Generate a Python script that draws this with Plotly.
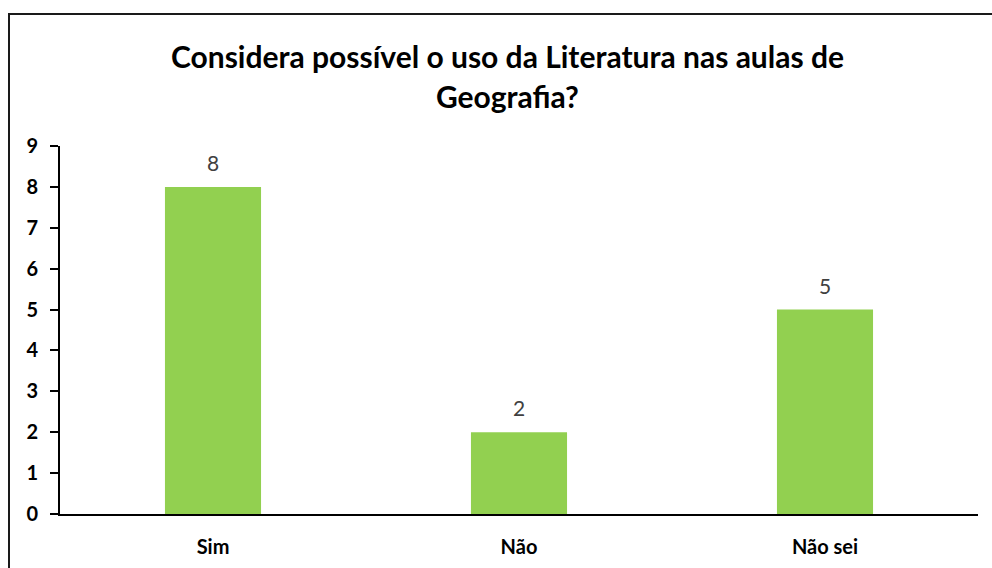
import plotly.graph_objects as go

categories = ["Sim", "Não", "Não sei"]
values = [8, 2, 5]
title_lines = ["Considera possível o uso da Literatura nas aulas de", "Geografia?"]

W, H = 992, 568
L, R, T, B = 60, 14, 146, 54
plot_w = W - L - R
plot_h = H - T - B

bar_color = "#92D050"
font_family = "Lato, 'Open Sans', sans-serif"

fig = go.Figure(
    go.Bar(
        x=categories,
        y=values,
        marker=dict(color=bar_color, line=dict(width=0)),
        width=0.314,
        hoverinfo="skip",
    )
)

# value labels above each bar
for c, v in zip(categories, values):
    fig.add_annotation(
        x=c, y=v, text=str(v), showarrow=False,
        yanchor="bottom", yshift=10,
        font=dict(family=font_family, size=21, color="#404040"),
    )

# two-line title
for i, line in enumerate(title_lines):
    fig.add_annotation(
        xref="paper", yref="paper",
        x=(507 - L) / plot_w, y=(H - B - (56 + 40 * i)) / plot_h,
        text=f"<b>{line}</b>", showarrow=False,
        xanchor="center", yanchor="middle",
        font=dict(family=font_family, size=30, color="#000000"),
    )

# chart frame
fig.add_shape(
    type="rect", xref="paper", yref="paper",
    x0=(9 - L) / plot_w, x1=(W + 10 - L) / plot_w,
    y0=(H - B - (H + 10)) / plot_h, y1=(H - B - 14) / plot_h,
    line=dict(color="#1a1a1a", width=2), fillcolor="rgba(0,0,0,0)",
    layer="above",
)

fig.update_layout(
    width=W, height=H,
    margin=dict(l=L, r=R, t=T, b=B, pad=0, autoexpand=False),
    paper_bgcolor="white", plot_bgcolor="white",
    showlegend=False,
    font=dict(family=font_family, color="#000000"),
    xaxis=dict(
        showline=True, linecolor="#000000", linewidth=2,
        ticks="", showgrid=False, zeroline=False, automargin=False,
        tickfont=dict(family=font_family, size=20, color="#000000", weight="bold"),
        ticklabelstandoff=14,
    ),
    yaxis=dict(
        range=[0, 9], dtick=1, tick0=0, automargin=False,
        showline=True, linecolor="#000000", linewidth=2,
        ticks="outside", ticklen=8, tickwidth=2, tickcolor="#000000",
        showgrid=False, zeroline=False,
        tickfont=dict(family=font_family, size=20, color="#000000", weight="bold"),
        ticklabelstandoff=8,
    ),
)

fig.write_html("out.html")
